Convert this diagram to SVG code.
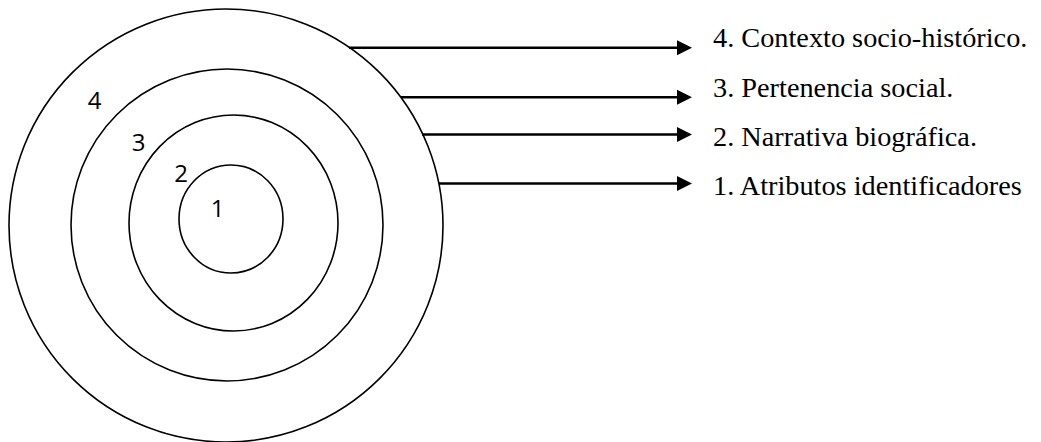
<svg xmlns="http://www.w3.org/2000/svg" width="1041" height="442" viewBox="0 0 1041 442">
<style>
.ring{fill:none;stroke:#000;stroke-width:1.6}
.num{font-family:"Open Sans","Liberation Sans",sans-serif;font-size:24px;fill:#000;text-anchor:middle}
.lbl{font-family:"Liberation Serif","Times New Roman",serif;font-size:28.3px;fill:#000}
.arr{stroke:#000;stroke-width:2.4;fill:none;marker-end:url(#ah)}
</style>
<defs>
<marker id="ah" markerUnits="userSpaceOnUse" markerWidth="16" markerHeight="16" refX="3" refY="7.5" orient="auto" viewBox="0 0 16 15">
<path d="M0,0 L15,7.5 L0,15 z" fill="#000"/>
</marker>
</defs>
<rect width="1041" height="442" fill="#fff"/>
<g id="ring4"><ellipse class="ring" cx="226" cy="225.5" rx="217" ry="216.5"/><text class="num" x="94.5" y="109">4</text></g>
<g id="ring3"><ellipse class="ring" cx="227" cy="225" rx="156" ry="156"/><text class="num" x="138.5" y="151">3</text></g>
<g id="ring2"><ellipse class="ring" cx="233.5" cy="223" rx="104.5" ry="108"/><text class="num" x="181" y="182">2</text></g>
<g id="ring1"><ellipse class="ring" cx="231" cy="219" rx="52" ry="54"/><text class="num" x="217.5" y="217">1</text></g>
<g id="connectors">
<line class="arr" x1="349" y1="47.7" x2="680" y2="47.7"/>
<line class="arr" x1="401" y1="97.3" x2="680" y2="97.3"/>
<line class="arr" x1="422" y1="134.5" x2="680" y2="134.5"/>
<line class="arr" x1="439" y1="183.5" x2="680" y2="183.5"/>
</g>
<g id="label4"><text class="lbl" x="713" y="47">4. Contexto socio-histórico.</text></g>
<g id="label3"><text class="lbl" x="713" y="96.5">3. Pertenencia social.</text></g>
<g id="label2"><text class="lbl" x="713" y="146">2. Narrativa biográfica.</text></g>
<g id="label1"><text class="lbl" x="713" y="195">1. Atributos identificadores</text></g>
</svg>
